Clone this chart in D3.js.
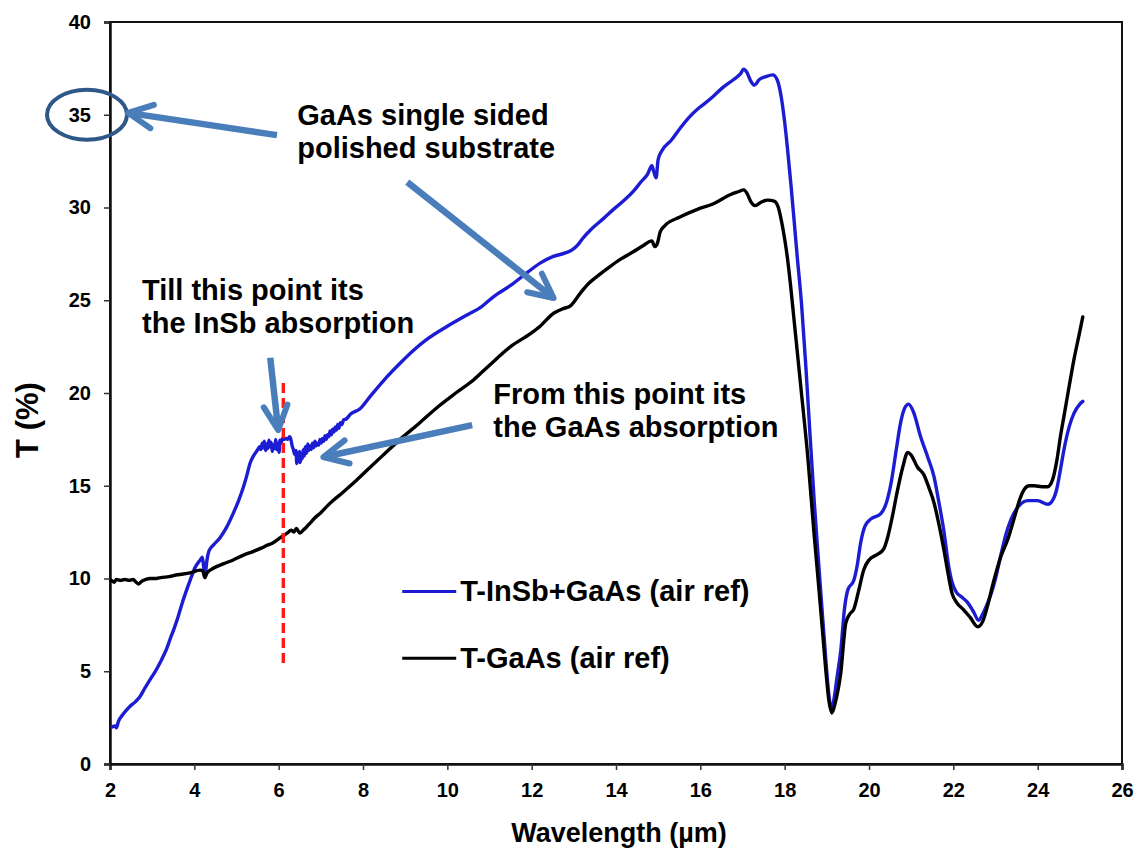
<!DOCTYPE html>
<html>
<head>
<meta charset="utf-8">
<script src="https://cdn.jsdelivr.net/npm/d3@7"></script>
<style>
  html, body { margin: 0; padding: 0; background: #fff; }
  svg { display: block; font-family: "Liberation Sans", Arial, sans-serif; font-weight: bold; }
</style>
</head>
<body>
<svg id="chart" width="1136" height="850"></svg>
<script>
// Transmission spectra, wavelength in µm, T in %
const seriesNames = ["T-InSb+GaAs (air ref)", "T-GaAs (air ref)"];
const seriesColors = ["#1c1cd2", "#000000"];

const inSbGaAs = [
  [2.05,2.0],[2.12,2.05],[2.15,1.95],[2.2,2.3],[2.3,2.65],[2.47,3.1],[2.6,3.35],[2.7,3.6],
  [2.83,4.1],[2.95,4.55],[3.05,4.9],[3.15,5.3],[3.26,5.8],[3.35,6.25],[3.42,6.7],[3.52,7.3],
  [3.61,7.9],[3.73,8.8],[3.82,9.4],[3.9,9.9],[4.02,10.6],[4.14,11.0],[4.19,11.15],[4.23,10.5],
  [4.26,10.35],[4.3,11.0],[4.35,11.5],[4.45,11.8],[4.61,12.2],[4.75,12.7],[4.92,13.5],[5.05,14.2],
  [5.16,14.9],[5.25,15.6],[5.32,16.2],[5.4,16.6],[5.49,16.9],
  [5.55,17.1],[5.58,16.95],[5.61,17.3],[5.63,17.05],[5.66,17.4],[5.69,16.9],[5.71,17.25],[5.74,17.0],
  [5.77,17.45],[5.79,17.1],[5.82,17.35],[5.85,16.85],[5.87,17.2],[5.9,17.0],[5.93,17.5],[5.95,16.95],
  [5.98,17.3],[6.01,16.8],[6.03,17.45],[6.06,17.3],[6.09,17.55],[6.13,17.5],[6.18,17.55],[6.22,17.5],
  [6.26,17.65],[6.29,17.5],[6.32,17.15],[6.35,16.95],[6.38,16.7],[6.41,16.9],[6.43,16.2],[6.45,16.75],
  [6.47,16.3],[6.49,16.85],[6.51,16.25],[6.54,16.7],[6.56,16.45],[6.58,16.95],[6.61,16.6],[6.63,17.1],
  [6.66,16.75],[6.69,17.25],[6.71,16.9],[6.74,17.15],[6.77,16.95],[6.8,17.3],[6.83,17.05],[6.86,17.4],
  [6.89,17.15],[6.92,17.3],[6.95,17.2],[6.98,17.5],[7.01,17.3],[7.04,17.55],[7.07,17.4],[7.1,17.7],
  [7.13,17.5],[7.16,17.75],[7.19,17.65],[7.22,17.95],[7.25,17.75],[7.28,18.05],[7.31,17.9],[7.34,18.15],
  [7.37,18.0],[7.4,18.3],[7.43,18.1],[7.46,18.4],[7.5,18.3],[7.54,18.55],[7.6,18.6],[7.7,18.85],
  [7.93,19.15],[8.2,19.9],[8.5,20.7],
  [8.88,21.6],[9.2,22.3],[9.52,22.9],[10.0,23.6],[10.5,24.25],[10.78,24.6],[11.1,25.2],[11.5,25.8],
  [11.9,26.5],[12.2,27.0],[12.5,27.35],[12.8,27.55],[12.95,27.7],[13.1,28.0],[13.2,28.3],[13.4,28.8],
  [13.7,29.4],[13.94,29.9],[14.2,30.4],[14.42,30.9],[14.6,31.4],[14.75,31.8],[14.85,32.25],[14.9,31.9],
  [14.95,31.6],[15.0,32.6],[15.1,33.1],[15.3,33.6],[15.53,34.3],[15.75,34.9],[15.93,35.3],[16.1,35.6],
  [16.31,36.0],[16.55,36.5],[16.79,36.9],[16.95,37.2],[17.03,37.45],[17.1,37.3],[17.2,36.8],[17.28,36.6],
  [17.4,36.9],[17.55,37.05],[17.72,37.15],[17.82,36.9],[17.9,36.2],[18.0,34.6],[18.07,33.1],[18.15,31.2],
  [18.22,29.4],[18.3,27.3],[18.4,24.8],[18.5,21.5],[18.6,17.8],[18.7,14.2],[18.8,11.0],[18.9,7.9],
  [18.98,5.5],[19.05,3.7],[19.12,2.9],[19.17,3.5],[19.25,4.8],[19.33,6.1],[19.42,8.4],[19.5,9.4],
  [19.64,9.9],[19.72,10.7],[19.8,11.9],[19.9,12.8],[20.04,13.2],[20.28,13.5],[20.4,14.0],[20.52,15.1],
  [20.65,17.0],[20.75,18.4],[20.85,19.2],[20.94,19.4],[21.05,19.0],[21.23,17.6],[21.4,16.5],[21.54,15.5],
  [21.65,14.2],[21.78,12.5],[21.88,10.8],[21.97,9.8],[22.06,9.3],[22.2,9.0],[22.34,8.7],[22.48,8.2],
  [22.6,7.75],[22.7,8.1],[22.8,8.6],[22.9,9.2],[23.0,10.0],[23.13,11.3],[23.25,12.4],[23.37,13.2],
  [23.55,13.9],[23.77,14.2],[24.0,14.2],[24.24,14.0],[24.35,14.2],[24.45,14.8],[24.55,16.0],[24.62,16.9],
  [24.75,18.2],[24.86,18.9],[25.0,19.4],[25.07,19.55]
];

const gaAs = [
  [2.03,9.9],[2.1,9.8],[2.15,9.95],[2.25,9.9],[2.35,9.95],[2.45,9.9],[2.55,9.95],[2.62,9.8],
  [2.68,9.7],[2.75,9.85],[2.85,9.95],[2.95,10.0],[3.1,10.0],[3.2,10.05],[3.4,10.1],[3.6,10.2],
  [3.9,10.3],[4.14,10.45],[4.2,10.4],[4.25,10.05],[4.3,10.3],[4.45,10.55],[4.7,10.8],[4.92,11.0],
  [5.15,11.25],[5.39,11.45],[5.6,11.65],[5.73,11.8],[5.85,11.9],[6.04,12.2],[6.2,12.45],[6.3,12.6],
  [6.36,12.5],[6.42,12.7],[6.5,12.45],[6.58,12.6],[6.65,12.75],[6.75,13.0],[6.85,13.25],[7.0,13.55],
  [7.15,13.9],[7.29,14.2],[7.5,14.6],[7.8,15.2],[8.1,15.85],[8.5,16.7],[8.88,17.5],[9.3,18.3],
  [9.8,19.3],[10.2,20.0],[10.62,20.7],[11.0,21.5],[11.5,22.5],[11.97,23.2],[12.2,23.6],[12.52,24.3],
  [12.75,24.55],[12.92,24.7],[13.16,25.4],[13.35,25.9],[13.56,26.3],[13.85,26.8],[14.1,27.2],[14.4,27.6],
  [14.65,27.95],[14.85,28.2],[14.92,27.9],[14.97,28.0],[15.05,28.7],[15.15,29.0],[15.53,29.5],[15.93,29.9],
  [16.31,30.2],[16.72,30.7],[16.9,30.85],[17.03,30.95],[17.12,30.7],[17.2,30.3],[17.3,30.1],[17.45,30.3],
  [17.6,30.4],[17.75,30.35],[17.85,30.0],[17.93,29.2],[18.0,28.3],[18.07,27.2],[18.14,25.8],[18.22,24.0],
  [18.38,20.4],[18.55,16.5],[18.69,12.6],[18.81,9.5],[18.9,7.1],[18.97,5.2],[19.05,3.4],[19.12,2.75],
  [19.2,3.3],[19.33,4.9],[19.45,7.6],[19.55,8.1],[19.64,8.35],[19.75,9.3],[19.88,10.5],[20.0,11.0],
  [20.2,11.3],[20.35,11.6],[20.44,12.2],[20.55,13.3],[20.68,14.8],[20.8,16.0],[20.92,16.8],[21.0,16.65],
  [21.15,16.0],[21.3,15.6],[21.42,14.9],[21.54,14.1],[21.66,12.9],[21.78,11.5],[21.88,10.2],[21.97,9.2],
  [22.08,8.7],[22.25,8.3],[22.4,7.9],[22.58,7.4],[22.7,7.7],[22.82,8.6],[22.95,9.8],[23.13,11.2],
  [23.29,12.1],[23.45,13.3],[23.58,14.3],[23.68,14.8],[23.8,15.0],[23.92,15.0],[24.1,14.95],[24.24,14.95],
  [24.35,15.3],[24.45,16.3],[24.55,17.8],[24.62,18.7],[24.75,20.4],[24.86,21.8],[24.97,23.0],[25.07,24.1]
];

const xTicks = [2, 4, 6, 8, 10, 12, 14, 16, 18, 20, 22, 24, 26];
const yTicks = [0, 5, 10, 15, 20, 25, 30, 35, 40];

// Boundary between InSb and GaAs absorption (µm) and its drawn span in T (%)
const boundaryWavelength = 6.11;
const boundarySpan = [5.45, 20.75];

const svg = d3.select("#chart");
const margin = { left: 110, right: 14, top: 22, bottom: 86 };
const W = 1136, H = 850;
const plotW = W - margin.left - margin.right;
const plotH = H - margin.top - margin.bottom;

const x = d3.scaleLinear().domain([2, 26]).range([margin.left, margin.left + plotW]);
const y = d3.scaleLinear().domain([0, 40]).range([margin.top + plotH, margin.top]);

// Plot frame
svg.append("rect")
  .attr("x", x(2)).attr("y", y(40))
  .attr("width", x(26) - x(2)).attr("height", y(0) - y(40))
  .attr("fill", "none").attr("stroke", "#111").attr("stroke-width", 2);

// Axes
const xAxis = svg.append("g")
  .attr("transform", `translate(0,${y(0)})`)
  .call(d3.axisBottom(x).tickValues(xTicks).tickSize(6).tickPadding(13).tickFormat(d3.format("d")));
const yAxis = svg.append("g")
  .attr("transform", `translate(${x(2)},0)`)
  .call(d3.axisLeft(y).tickValues(yTicks).tickSize(6).tickPadding(13).tickFormat(d3.format("d")));
[xAxis, yAxis].forEach(g => {
  g.select(".domain").attr("stroke", "#111").attr("stroke-width", 2.5);
  g.selectAll(".tick line").attr("stroke", "#333").attr("stroke-width", 1.5);
  g.selectAll(".tick text")
    .attr("fill", "#000")
    .style("font-family", "'Liberation Sans', Arial, sans-serif")
    .style("font-weight", "bold")
    .style("font-size", "20px");
});

// Axis titles
svg.append("text")
  .attr("x", (x(2) + x(26)) / 2 + 3).attr("y", 842)
  .attr("text-anchor", "middle")
  .style("font-size", "27px")
  .text("Wavelength (µm)");
svg.append("text")
  .attr("transform", `translate(38,${(y(0) + y(40)) / 2 + 27}) rotate(-90)`)
  .attr("text-anchor", "middle")
  .style("font-size", "31px")
  .text("T (%)");

// Spectra
const line = d3.line().x(d => x(d[0])).y(d => y(d[1])).curve(d3.curveMonotoneX);
const seriesData = [inSbGaAs, gaAs];
svg.append("g").selectAll("path")
  .data(seriesData)
  .join("path")
  .attr("d", line)
  .attr("fill", "none")
  .attr("stroke", (d, i) => seriesColors[i])
  .attr("stroke-width", 3.4)
  .attr("stroke-linejoin", "round")
  .attr("stroke-linecap", "round");

// Boundary marker
svg.append("line")
  .attr("x1", x(boundaryWavelength)).attr("x2", x(boundaryWavelength))
  .attr("y1", y(boundarySpan[0])).attr("y2", y(boundarySpan[1]))
  .attr("stroke", "#ff1a1a").attr("stroke-width", 3.4)
  .attr("stroke-dasharray", "10,5");

// Legend
const legendX = x(8.93), legendY = [y(9.3), y(5.7)];
const legend = svg.append("g");
seriesNames.forEach((name, i) => {
  legend.append("line")
    .attr("x1", legendX).attr("x2", legendX + 54)
    .attr("y1", legendY[i]).attr("y2", legendY[i])
    .attr("stroke", seriesColors[i]).attr("stroke-width", 3);
  legend.append("text")
    .attr("x", legendX + 58).attr("y", legendY[i] + 10)
    .style("font-size", "29px")
    .text(name);
});

// Annotations
const annoColor = "#4a7ebb";
function arrow(x0, y0, x1, y1) {
  const px0 = x(x0), py0 = y(y0), px1 = x(x1), py1 = y(y1);
  const ang = Math.atan2(py0 - py1, px0 - px1);
  const len = 27, spread = 26 * Math.PI / 180;
  const g = svg.append("g").attr("stroke", annoColor).attr("fill", "none")
    .attr("stroke-linecap", "round").attr("stroke-linejoin", "round");
  g.append("line").attr("x1", px0).attr("y1", py0).attr("x2", px1).attr("y2", py1)
    .attr("stroke-width", 6.5).attr("stroke-linecap", "butt");
  g.append("path")
    .attr("d", `M${px1 + len * Math.cos(ang + spread)},${py1 + len * Math.sin(ang + spread)}L${px1},${py1}L${px1 + len * Math.cos(ang - spread)},${py1 + len * Math.sin(ang - spread)}`)
    .attr("stroke-width", 6);
}
function note(xv, yv, lines) {
  const t = svg.append("text").attr("x", x(xv)).attr("y", y(yv)).style("font-size", "29px");
  lines.forEach((s, i) => t.append("tspan").attr("x", x(xv)).attr("dy", i === 0 ? 0 : 33).text(s));
}

// circled 35 tick label
svg.append("ellipse")
  .attr("cx", x(2) - 23).attr("cy", y(35))
  .attr("rx", 40).attr("ry", 25)
  .attr("fill", "none").attr("stroke", "#2f5888").attr("stroke-width", 4);

note(6.44, 34.45, ["GaAs single sided", "polished substrate"]);
arrow(5.96, 33.9, 2.43, 35.1);
arrow(9.05, 31.37, 12.52, 25.12);

note(2.76, 25.0, ["Till this point its", "the InSb absorption"]);
arrow(5.80, 21.9, 5.99, 18.0);

note(11.09, 19.4, ["From this point its", "the GaAs absorption"]);
arrow(10.59, 18.27, 7.06, 16.55);
</script>
</body>
</html>
